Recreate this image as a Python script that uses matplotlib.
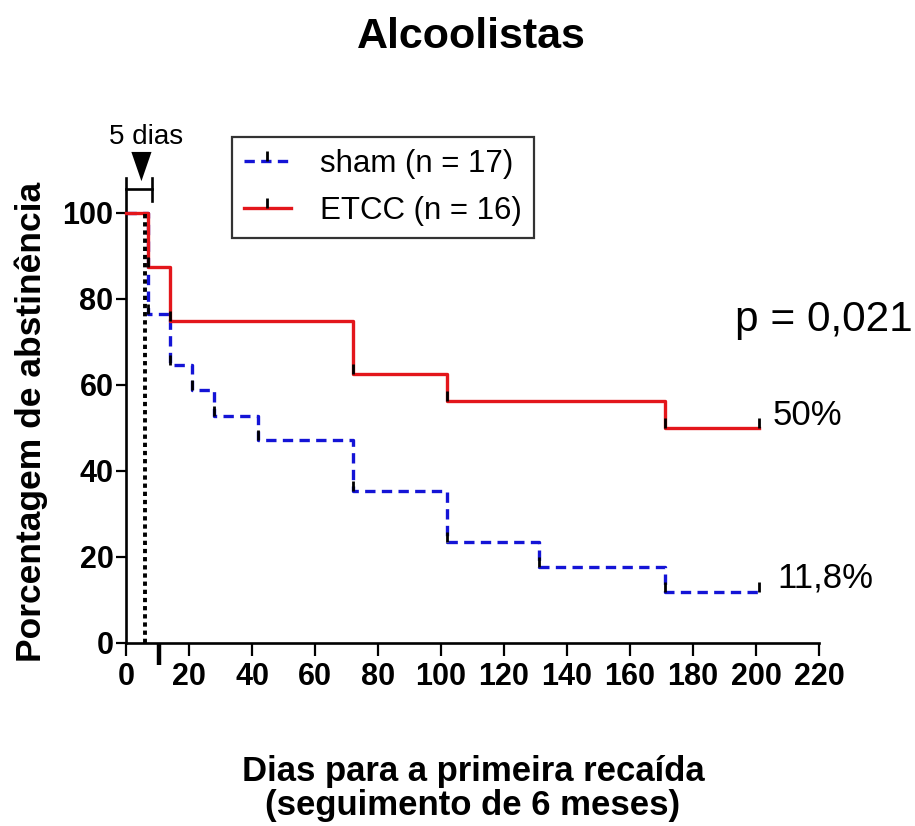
import matplotlib
matplotlib.use("Agg")
import matplotlib.pyplot as plt
from matplotlib.lines import Line2D

plt.rcParams["font.family"] = ["Liberation Sans", "DejaVu Sans"]

# Kaplan-Meier style abstinence curves (days to first relapse, % abstinent)
etcc_days = [0, 7, 14, 72, 102, 171, 201]
etcc_pct = [100, 87.5, 75, 62.5, 56.25, 50, 50]
sham_days = [0, 7, 14, 21, 28, 42, 72, 102, 131, 171, 201]
sham_pct = [100, 76.5, 64.7, 58.8, 52.9, 47.1, 35.3, 23.5, 17.6, 11.8, 11.8]

x_ticks = [0, 20, 40, 60, 80, 100, 120, 140, 160, 180, 200, 220]
y_ticks = [0, 20, 40, 60, 80, 100]

sham_label = "sham (n = 17)"
etcc_label = "ETCC (n = 16)"
p_label = "p = 0,021"
window_days = 6
window_label = "5 dias"

RED = "#e3161b"
BLUE = "#1414d6"
W, H = 915, 826

fig = plt.figure(figsize=(W / 100, H / 100), dpi=100)
ax = fig.add_axes([126 / W, 1 - 643 / H, 693 / W, 430 / H])
ax.set_xlim(0, 220)
ax.set_ylim(0, 100)

# vertical tick marker rising from the point
tick_mark = [(0, 0), (0, 1)]

ax.step(sham_days, sham_pct, where="post", color=BLUE, lw=2.4,
        dashes=(3.1, 1.9), clip_on=False, zorder=3)
ax.plot(sham_days[1:], sham_pct[1:], ls="none", marker=tick_mark, ms=15,
        mec="k", mew=2.0, clip_on=False, zorder=4)

ax.step(etcc_days, etcc_pct, where="post", color=RED, lw=2.4,
        clip_on=False, zorder=5)
ax.plot(etcc_days[1:], etcc_pct[1:], ls="none", marker=tick_mark, ms=15,
        mec="k", mew=2.0, clip_on=False, zorder=6)

# dotted line marking the treatment window
ax.plot([window_days, window_days], [0, 100], color="k", lw=2.8,
        dashes=(1.1, 1.0), zorder=7, clip_on=False)

# bracket and arrow above the plot
ax.plot([0, 8.4], [105.6, 105.6], color="k", lw=1.9, clip_on=False)
ax.plot([0, 0], [100, 108.2], color="k", lw=1.9, clip_on=False)
ax.plot([8.4, 8.4], [102.8, 108.2], color="k", lw=1.9, clip_on=False)
ax.fill([1.7, 8.1, 4.9], [114.2, 114.2, 107.4], color="k", clip_on=False,
        lw=0)
ax.text(6.3, 116.0, window_label, fontsize=20, ha="center", va="baseline")

# marker below the x axis at day 10
ax.plot([10.5, 10.5], [0, -5.0], color="k", lw=3.2, clip_on=False,
        solid_capstyle="butt")

for side in ("top", "right"):
    ax.spines[side].set_visible(False)
for side in ("left", "bottom"):
    ax.spines[side].set_linewidth(1.9)
ax.spines["left"].set_bounds(0, 100)
ax.spines["bottom"].set_bounds(0, 220)

ax.set_xticks(x_ticks)
ax.set_yticks(y_ticks)
ax.tick_params(axis="x", length=9, width=1.6, pad=5, labelsize=22)
ax.tick_params(axis="y", length=7, width=1.6, pad=2, labelsize=22)
for lab in ax.get_xticklabels() + ax.get_yticklabels():
    lab.set_fontweight("bold")

ax.text(193.3, 75.1, p_label, fontsize=30.5, ha="left", va="center")
ax.text(205.4, 53.0, f"{etcc_pct[-1]:.0f}%", fontsize=25, ha="left",
        va="center")
ax.text(206.7, 15.1, f"{sham_pct[-1]:.1f}%".replace(".", ","), fontsize=25,
        ha="left", va="center")

handles = [
    Line2D([], [], color=BLUE, lw=2.4, dashes=(3.1, 1.9), marker=tick_mark,
           ms=15, mec="k", mew=2.0),
    Line2D([], [], color=RED, lw=2.4, marker=tick_mark, ms=15, mec="k",
           mew=2.0),
]
leg = fig.legend(handles, [sham_label, etcc_label], loc="upper left",
                 bbox_to_anchor=(232 / W, 1 - 137 / H), borderaxespad=0,
                 fontsize=22.5, frameon=True, fancybox=False,
                 handlelength=1.5, handletextpad=0.95, labelspacing=0.55,
                 borderpad=0.38, numpoints=1)
leg.get_frame().set_edgecolor("k")
leg.get_frame().set_linewidth(1.6)

fig.text(471 / W, 1 - 37 / H, "Alcoolistas", fontsize=31, fontweight="bold",
         ha="center", va="center")
fig.text(31 / W, 1 - 422 / H, "Porcentagem de abstinência", fontsize=25.5,
         fontweight="bold", rotation=90, ha="center", va="center")
fig.text(473 / W, 1 - 771 / H, "Dias para a primeira recaída", fontsize=25,
         fontweight="bold", ha="center", va="center")
fig.text(473 / W, 1 - 805 / H, "(seguimento de 6 meses)", fontsize=25,
         fontweight="bold", ha="center", va="center")

fig.savefig("out.png", dpi=100, facecolor="white")
